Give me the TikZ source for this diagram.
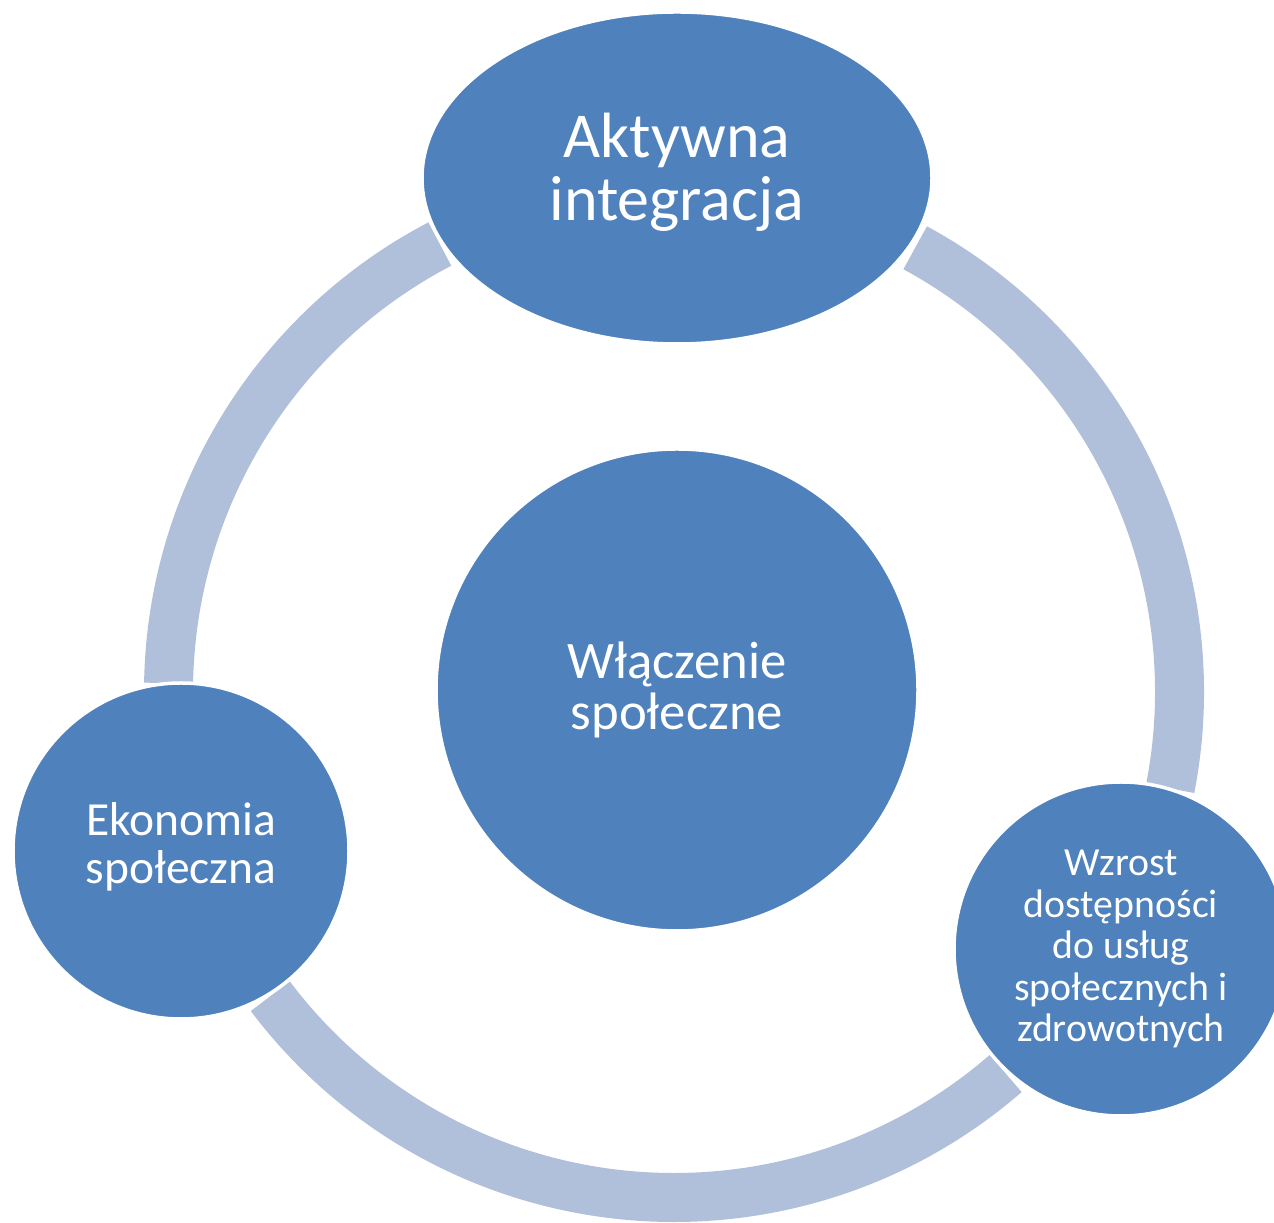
\documentclass[tikz,border=0pt]{standalone}
\usepackage{fontspec}
\setmainfont{Carlito}
\usetikzlibrary{shapes.geometric,calc}
\definecolor{nodeblue}{RGB}{79,129,189}
\definecolor{ringblue}{RGB}{177,192,218}
\tikzset{
  ringarc/.style={draw=ringblue,line width=49pt,line cap=butt},
  bubble/.style={fill=nodeblue,draw=white,line width=3.5pt,text=white,align=center,inner sep=0pt},
  roundbubble/.style={bubble,circle},
  ovalbubble/.style={bubble,ellipse}
}
\begin{document}
\begin{tikzpicture}[x=1pt,y=1pt]
\useasboundingbox (0,0) rectangle (1274,1223);
\coordinate (ringc) at (674,531);
% ring arcs
\draw[ringarc] ([shift={(117.6:505.5)}]ringc) arc[start angle=117.6,end angle=179,radius=505.5];
\draw[ringarc] ([shift={(61.5:505.5)}]ringc) arc[start angle=61.5,end angle=-11,radius=505.5];
\draw[ringarc] ([shift={(-49:505.5)}]ringc) arc[start angle=-49,end angle=-143,radius=505.5];
% nodes
\node[ovalbubble,minimum width=510pt,minimum height=332pt,font=\fontsize{64}{63}\selectfont] (top) at (677,1045) {Aktywna\\integracja\rule[-23pt]{0pt}{1pt}};
\node[roundbubble,minimum size=482pt,font=\fontsize{52.7}{50.5}\selectfont] (mid) at (677,533) {Włączenie\\społeczne};
\node[roundbubble,minimum size=336pt,font=\fontsize{47.5}{48}\selectfont] (left) at (181,372) {Ekonomia\\społeczna\rule[-16pt]{0pt}{1pt}};
\node[roundbubble,minimum size=334pt,font=\fontsize{39.8}{41.5}\selectfont] (right) at (1121,274) {Wzrost\\dostępności\\do usług\\społecznych i\\zdrowotnych};
\end{tikzpicture}
\end{document}
